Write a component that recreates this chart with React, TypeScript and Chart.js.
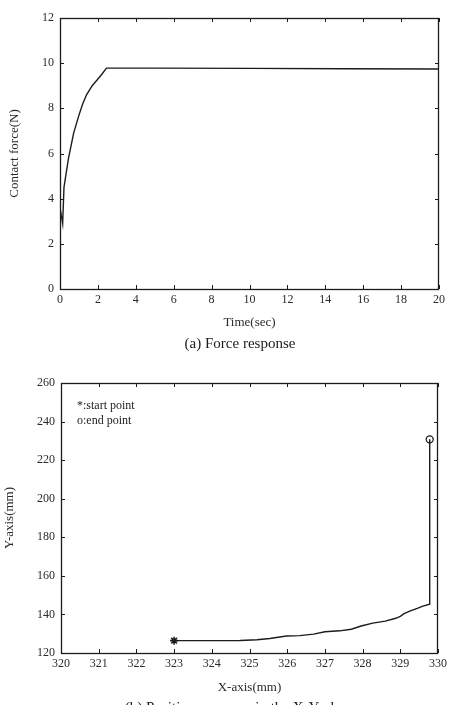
import React, { useEffect, useRef } from 'react';
import { Chart, registerables } from 'chart.js';
Chart.register(...registerables);

const FONT = '"Liberation Serif", "Times New Roman", serif';
const INK = '#1c1c1c';

// (a) Force response
const forceTime = [0, 0.14, 0.21, 0.45, 0.72, 1.0, 1.2, 1.4, 1.7, 2.0, 2.2, 2.45, 5, 10, 15, 20];
const forceValue = [3.6, 2.9, 4.5, 5.8, 6.9, 7.7, 8.2, 8.6, 9.0, 9.3, 9.5, 9.78, 9.78, 9.77, 9.75, 9.74];
const forceXTicks = { min: 0, max: 20, step: 2 };
const forceYTicks = { min: 0, max: 12, step: 2 };

// (b) Position response
const posX = [323.0, 324.0, 324.75, 325.2, 325.54, 325.98, 326.33, 326.7, 327.0, 327.39, 327.7, 327.96, 328.27, 328.6, 328.88, 329.0, 329.1, 329.25, 329.45, 329.6, 329.78, 329.78];
const posY = [126.4, 126.4, 126.5, 126.9, 127.5, 128.8, 129.0, 129.8, 131.0, 131.5, 132.3, 134.0, 135.5, 136.5, 138.0, 139.0, 140.4, 141.7, 143.1, 144.3, 145.3, 230.8];
const startPoint = [323.0, 126.4];
const endPoint = [329.78, 230.8];
const posXTicks = { min: 320, max: 330, step: 1 };
const posYTicks = { min: 120, max: 260, step: 20 };
const legendLines = ['*:start point', 'o:end point'];

const frameTicks = {
  id: 'frameTicks',
  afterDatasetsDraw(chart: any) {
    const { ctx, chartArea: a, scales } = chart;
    const L = 4;
    ctx.save();
    ctx.strokeStyle = INK;
    ctx.lineWidth = 1;
    ctx.beginPath();
    scales.x.ticks.forEach((t: any) => {
      const px = Math.round(scales.x.getPixelForValue(t.value)) + 0.5;
      ctx.moveTo(px, a.bottom); ctx.lineTo(px, a.bottom - L);
      ctx.moveTo(px, a.top); ctx.lineTo(px, a.top + L);
    });
    scales.y.ticks.forEach((t: any) => {
      const py = Math.round(scales.y.getPixelForValue(t.value)) + 0.5;
      ctx.moveTo(a.left, py); ctx.lineTo(a.left + L, py);
      ctx.moveTo(a.right, py); ctx.lineTo(a.right - L, py);
    });
    ctx.stroke();
    ctx.lineWidth = 1.3;
    ctx.strokeRect(Math.round(a.left) + 0.5, Math.round(a.top) + 0.5, Math.round(a.width) - 1, Math.round(a.height));
    ctx.restore();
  },
};

function axis(t: { min: number; max: number; step: number }, title: string, horizontal: boolean, size: number, titlePad: any) {
  return {
    type: 'linear',
    min: t.min,
    max: t.max,
    ticks: { stepSize: t.step, font: { family: FONT, size: 12 }, color: '#2a2a2a', padding: horizontal ? 4 : 6, maxRotation: 0, autoSkip: false },
    grid: { display: false, drawTicks: false },
    border: { display: false },
    title: { display: true, text: title, font: { family: FONT, size: 13 }, color: '#2a2a2a', padding: titlePad },
    afterFit(s: any) {
      if (horizontal) s.height = size; else s.width = size;
    },
  };
}

function ForceChart() {
  const ref = useRef<HTMLCanvasElement>(null);
  useEffect(() => {
    const chart = new Chart(ref.current as HTMLCanvasElement, {
      type: 'scatter',
      data: {
        datasets: [
          {
            data: forceTime.map((t, i) => ({ x: t, y: forceValue[i] })),
            showLine: true,
            borderColor: INK,
            borderWidth: 1.4,
            pointRadius: 0,
            tension: 0,
          },
        ],
      },
      options: {
        responsive: false,
        animation: false,
        devicePixelRatio: 1,
        layout: { padding: { top: 18, right: 12, left: 0, bottom: 0 } },
        plugins: { legend: { display: false }, tooltip: { enabled: false } },
        scales: {
          x: axis(forceXTicks, 'Time(sec)', true, 46, { top: 0, bottom: 5 }),
          y: axis(forceYTicks, 'Contact force(N)', false, 60, { top: 7, bottom: 0 }),
        } as any,
      },
      plugins: [frameTicks],
    } as any);
    return () => chart.destroy();
  }, []);
  return <canvas ref={ref} width={451} height={335} style={{ position: 'absolute', left: 0, top: 0, display: 'block' }} />;
}

function PositionChart() {
  const ref = useRef<HTMLCanvasElement>(null);
  useEffect(() => {
    const annot = {
      id: 'annot',
      afterDatasetsDraw(chart: any) {
        const { ctx, chartArea: a } = chart;
        ctx.save();
        ctx.fillStyle = '#1c1c1c';
        ctx.font = `12px ${FONT}`;
        ctx.textBaseline = 'middle';
        legendLines.forEach((s, i) => ctx.fillText(s, a.left + 16, a.top + 23 + i * 14.5));
        ctx.restore();
      },
    };
    const chart = new Chart(ref.current as HTMLCanvasElement, {
      type: 'scatter',
      data: {
        datasets: [
          {
            data: posX.map((x, i) => ({ x, y: posY[i] })),
            showLine: true,
            borderColor: INK,
            borderWidth: 1.4,
            pointRadius: 0,
            tension: 0,
          },
          {
            data: [{ x: startPoint[0], y: startPoint[1] }],
            pointStyle: 'star',
            pointRadius: 4,
            borderColor: INK,
            borderWidth: 1.6,
            backgroundColor: INK,
          },
          {
            data: [{ x: endPoint[0], y: endPoint[1] }],
            pointStyle: 'circle',
            pointRadius: 3.5,
            borderColor: INK,
            borderWidth: 1.3,
            backgroundColor: 'rgba(0,0,0,0)',
          },
        ],
      },
      options: {
        responsive: false,
        animation: false,
        devicePixelRatio: 1,
        layout: { padding: { top: 28, right: 13, left: 0, bottom: 0 } },
        plugins: { legend: { display: false }, tooltip: { enabled: false } },
        scales: {
          x: axis(posXTicks, 'X-axis(mm)', true, 52, { top: 0, bottom: 10 }),
          y: axis(posYTicks, 'Y-axis(mm)', false, 61, { top: 2, bottom: 0 }),
        } as any,
      },
      plugins: [frameTicks, annot],
    } as any);
    return () => chart.destroy();
  }, []);
  return <canvas ref={ref} width={451} height={350} style={{ position: 'absolute', left: 0, top: 355, display: 'block' }} />;
}

const captionStyle: React.CSSProperties = {
  position: 'absolute',
  left: 0,
  width: 480,
  textAlign: 'center',
  fontFamily: FONT,
  fontSize: 15,
  lineHeight: '18px',
  color: '#1c1c1c',
  whiteSpace: 'nowrap',
};

export default function App() {
  return (
    <div style={{ position: 'absolute', left: 0, top: 0, width: 451, height: 705, background: '#fff', overflow: 'hidden' }}>
      <ForceChart />
      <div style={{ ...captionStyle, top: 334 }}>(a) Force response</div>
      <PositionChart />
      <div style={{ ...captionStyle, top: 698 }}>(b) Position response in the X-Y plane</div>
    </div>
  );
}
